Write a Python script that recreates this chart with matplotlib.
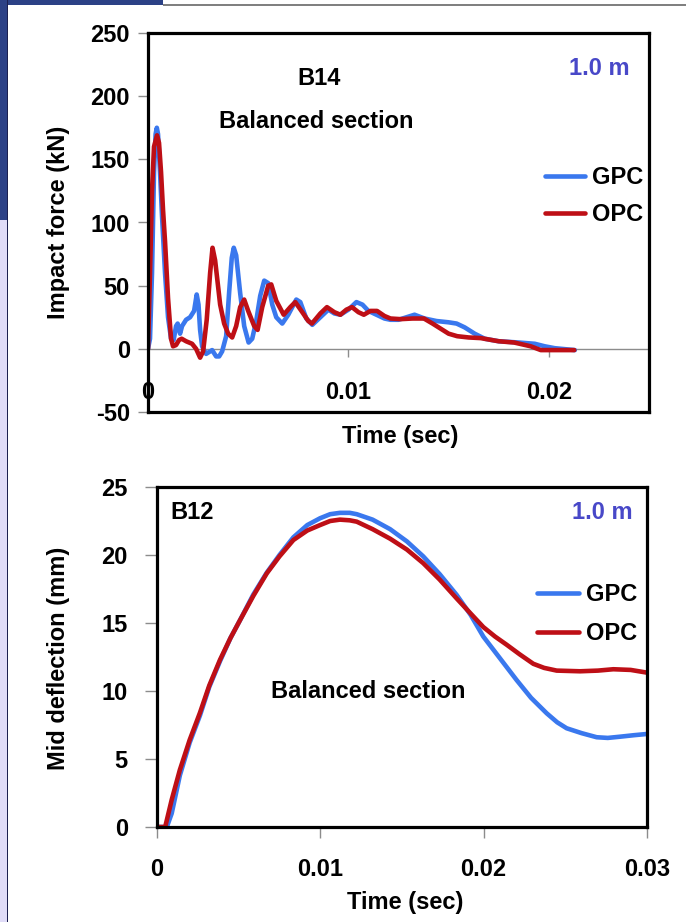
import matplotlib
matplotlib.use('Agg')
import matplotlib.pyplot as plt
from matplotlib.patches import Rectangle

plt.rcParams['font.family'] = ['Liberation Sans', 'DejaVu Sans']
plt.rcParams['font.weight'] = 'bold'
plt.rcParams['axes.unicode_minus'] = False

# impact force, beam B14 (time in s, force in kN)
t_gpc_force = [0.0, 0.0001, 0.0002, 0.0003, 0.00038, 0.00044, 0.0005, 0.0006, 0.0007, 0.00085,
               0.001, 0.00115, 0.00128, 0.0014, 0.00148, 0.0016, 0.0017, 0.0019, 0.0021, 0.0023,
               0.00243, 0.00252, 0.0026, 0.0027, 0.0029, 0.0031, 0.0032, 0.0034, 0.00355, 0.0037,
               0.0039, 0.00405, 0.00418, 0.00428, 0.0044, 0.0046, 0.0048, 0.00502, 0.0052,
               0.0054, 0.0056, 0.0058, 0.006, 0.0062, 0.0064, 0.0067, 0.007, 0.0074, 0.0076,
               0.0079, 0.0082, 0.0086, 0.009, 0.0093, 0.0096, 0.01, 0.0104, 0.0107, 0.011,
               0.0114, 0.0118, 0.0121, 0.0125, 0.0129, 0.0133, 0.0138, 0.0144, 0.015, 0.0154,
               0.0158, 0.0163, 0.0168, 0.0175, 0.0185, 0.0193, 0.0198, 0.0203, 0.0213]
f_gpc = [0, 8, 60, 140, 170, 175, 170, 140, 105, 60, 25, 8, 7, 18, 20, 12, 18, 23, 25, 30,
         43, 35, 15, 2, -4, -2, -1, -6, -6, -2, 10, 45, 72, 80, 74, 44, 18, 5, 8, 22, 42, 54,
         52, 35, 25, 20, 27, 39, 37, 24, 19, 25, 31, 28, 27, 31, 37, 35, 30, 27, 24, 23, 23,
         25, 27, 24, 22, 21, 20, 17, 12, 8, 6, 5, 4, 2, 0.5, -1]

t_opc_force = [0.0, 0.0001, 0.0002, 0.0003, 0.00045, 0.00055, 0.00065, 0.00075, 0.00085, 0.001,
               0.00115, 0.00125, 0.0014, 0.00155, 0.00168, 0.0019, 0.0022, 0.0024, 0.0026,
               0.00275, 0.00293, 0.0031, 0.00322, 0.00335, 0.0036, 0.0038, 0.004, 0.0042,
               0.0044, 0.0046, 0.0048, 0.005, 0.0053, 0.00547, 0.0057, 0.006, 0.00615, 0.0064,
               0.00677, 0.0071, 0.00735, 0.0077, 0.008, 0.00818, 0.0086, 0.00893, 0.0093,
               0.0096, 0.0099, 0.01018, 0.0105, 0.01077, 0.0111, 0.01143, 0.0118, 0.0121,
               0.0126, 0.0132, 0.01377, 0.0142, 0.0146, 0.015, 0.01543, 0.016, 0.0166, 0.0175,
               0.01827, 0.0191, 0.0196, 0.0203, 0.02127]
f_opc = [0, 60, 125, 160, 169, 163, 140, 110, 85, 40, 8, 2, 3, 7, 8, 6, 4, 0, -7, -2, 23, 60,
         80, 70, 35, 20, 12, 9, 18, 33, 39, 30, 18, 15, 33, 50, 51, 38, 27, 33, 37, 29, 22,
         20, 28, 33, 29, 27, 31, 33, 29, 27, 30, 30, 26, 24, 23.5, 24, 24, 20, 16, 12, 10, 9,
         8.5, 6, 5, 2, -1, -1, -1]

# mid deflection, beam B12 (time in s, deflection in mm)
t_gpc_defl = [0.0, 0.0006, 0.0009, 0.0014, 0.002, 0.00263, 0.0032, 0.00386, 0.0045, 0.00508,
              0.0059, 0.00672, 0.0075, 0.00835, 0.0092, 0.00998, 0.0106, 0.0112, 0.0118,
              0.01223, 0.0132, 0.01427, 0.0153, 0.0163, 0.0173, 0.01835, 0.0192, 0.01998,
              0.021, 0.02202, 0.0229, 0.02386, 0.0245, 0.02508, 0.026, 0.02692, 0.0276,
              0.02835, 0.0292, 0.03]
d_gpc = [0, 0, 1, 3.8, 6.2, 8.2, 10.3, 12.2, 13.9, 15.2, 17.1, 18.7, 20.0, 21.3, 22.2, 22.7,
         23.0, 23.1, 23.1, 23.0, 22.6, 21.9, 21.0, 19.9, 18.6, 17.06, 15.6, 14.0, 12.4, 10.8,
         9.5, 8.36, 7.7, 7.26, 6.9, 6.6, 6.55, 6.64, 6.75, 6.84]

t_opc_defl = [0.0, 0.0005, 0.0009, 0.0014, 0.002, 0.00263, 0.0032, 0.00386, 0.0045, 0.00508,
              0.0059, 0.00672, 0.0075, 0.00835, 0.0092, 0.00998, 0.0106, 0.0112, 0.0118,
              0.01223, 0.0132, 0.01427, 0.0153, 0.0163, 0.0173, 0.01835, 0.0192, 0.01998,
              0.0207, 0.02141, 0.0222, 0.02304, 0.0237, 0.02447, 0.0259, 0.027, 0.02794,
              0.029, 0.03]
d_opc = [0, 0, 2, 4.2, 6.4, 8.4, 10.4, 12.3, 13.9, 15.2, 17.0, 18.65, 19.9, 21.1, 21.8, 22.2,
         22.5, 22.6, 22.55, 22.45, 21.9, 21.2, 20.4, 19.4, 18.2, 16.8, 15.7, 14.7, 14.0, 13.4,
         12.7, 12.0, 11.7, 11.5, 11.45, 11.5, 11.6, 11.55, 11.35]

force_yticks = [-50, 0, 50, 100, 150, 200, 250]
force_xticks = [0, 0.01, 0.02]
force_xlabels = ['0', '0.01', '0.02']
defl_yticks = [0, 5, 10, 15, 20, 25]
defl_xticks = [0, 0.01, 0.02, 0.03]
defl_xlabels = ['0', '0.01', '0.02', '0.03']

blue = '#3A78EE'
red = '#BE0F16'
note_blue = '#4848C8'
fs = 17
lw = 3.3

W, H = 686, 922
fig = plt.figure(figsize=(W / 100, H / 100), dpi=100)
fig.patch.set_facecolor('white')

# slide background bits at the left / top edge
fig.patches.append(Rectangle((0, 1 - 5 / H), 163 / W, 5 / H, transform=fig.transFigure,
                             facecolor='#2C4186', edgecolor='none'))
fig.patches.append(Rectangle((163 / W, 1 - 6 / H), 1, 1.5 / H, transform=fig.transFigure,
                             facecolor='#808080', edgecolor='none'))
fig.patches.append(Rectangle((0, 1 - 220 / H), 7 / W, 220 / H, transform=fig.transFigure,
                             facecolor='#2C4186', edgecolor='none'))
fig.patches.append(Rectangle((0, 0), 7 / W, 1 - 220 / H, transform=fig.transFigure,
                             facecolor='#E0DCF8', edgecolor='none'))
fig.patches.append(Rectangle((7 / W, 0), 1.5 / W, 1, transform=fig.transFigure,
                             facecolor='#1C2050', edgecolor='none'))


def px_axes(l, t, r, b):
    return fig.add_axes([l / W, 1 - b / H, (r - l) / W, (b - t) / H])


def frame(ax):
    for s in ax.spines.values():
        s.set_linewidth(2.3)
        s.set_color('black')
    ax.tick_params(axis='y', color='#8C8C8C', width=1, labelsize=fs)
    for lab in ax.get_yticklabels() + ax.get_xticklabels():
        lab.set_fontweight('bold')


line_kw = dict(lw=lw, solid_capstyle='round', solid_joinstyle='round')

# ---- top panel: impact force ----
ax1 = px_axes(148, 33, 649, 412)
ax1.plot(t_gpc_force, f_gpc, color=blue, label='GPC', **line_kw)
ax1.plot(t_opc_force, f_opc, color=red, label='OPC', **line_kw)
ax1.set_xlim(0, 0.025)
ax1.set_ylim(-50, 250)
ax1.set_yticks(force_yticks)
ax1.set_xticks(force_xticks)
ax1.set_xticklabels(force_xlabels)
ax1.tick_params(axis='x', length=0, pad=-22, labelsize=fs)
ax1.tick_params(axis='y', length=7, pad=6)
frame(ax1)
zero_ax = ax1.secondary_xaxis(50 / 300)
zero_ax.set_xticks(force_xticks)
zero_ax.set_xticklabels([])
zero_ax.spines['bottom'].set_color('#8C8C8C')
zero_ax.spines['bottom'].set_linewidth(1)
zero_ax.tick_params(axis='x', color='#8C8C8C', width=1, length=6)
ax1.text(0.342, 0.881, 'B14', transform=ax1.transAxes, ha='center', va='center',
         fontsize=fs, fontweight='bold')
ax1.text(0.336, 0.7665, 'Balanced section', transform=ax1.transAxes, ha='center',
         va='center', fontsize=fs, fontweight='bold')
ax1.text(0.9, 0.907, '1.0 m', transform=ax1.transAxes, ha='center', va='center',
         fontsize=fs, fontweight='bold', color=note_blue)
ax1.legend(loc='center left', bbox_to_anchor=(0.769, 0.57), frameon=False,
           handlelength=1.7, handletextpad=0.3, labelspacing=0.6, borderpad=0,
           prop={'weight': 'bold', 'size': fs})
fig.text(59 / W, 1 - 222 / H, 'Impact force (kN)', rotation=90, ha='center', va='center',
         fontsize=fs, fontweight='bold')
fig.text(400 / W, 1 - 436 / H, 'Time (sec)', ha='center', va='center', fontsize=fs,
         fontweight='bold')

# ---- bottom panel: mid deflection ----
ax2 = px_axes(157, 487, 647, 827)
ax2.plot(t_gpc_defl, d_gpc, color=blue, label='GPC', **line_kw)
ax2.plot(t_opc_defl, d_opc, color=red, label='OPC', **line_kw)
ax2.set_xlim(0, 0.03)
ax2.set_ylim(0, 25)
ax2.set_yticks(defl_yticks)
ax2.set_xticks(defl_xticks)
ax2.set_xticklabels(defl_xlabels)
ax2.tick_params(axis='x', color='#8C8C8C', width=1, length=8, pad=14, labelsize=fs)
ax2.tick_params(axis='y', length=9, pad=12)
frame(ax2)
ax2.text(0.0714, 0.926, 'B12', transform=ax2.transAxes, ha='center', va='center',
         fontsize=fs, fontweight='bold')
ax2.text(0.908, 0.926, '1.0 m', transform=ax2.transAxes, ha='center', va='center',
         fontsize=fs, fontweight='bold', color=note_blue)
ax2.text(0.431, 0.40, 'Balanced section', transform=ax2.transAxes, ha='center',
         va='center', fontsize=fs, fontweight='bold')
ax2.legend(loc='center left', bbox_to_anchor=(0.751, 0.626), frameon=False,
           handlelength=1.8, handletextpad=0.3, labelspacing=0.65, borderpad=0,
           prop={'weight': 'bold', 'size': fs})
fig.text(59 / W, 1 - 658 / H, 'Mid deflection (mm)', rotation=90, ha='center', va='center',
         fontsize=fs, fontweight='bold')
fig.text(405 / W, 1 - 902 / H, 'Time (sec)', ha='center', va='center', fontsize=fs,
         fontweight='bold')

fig.savefig('out.png', dpi=100)
